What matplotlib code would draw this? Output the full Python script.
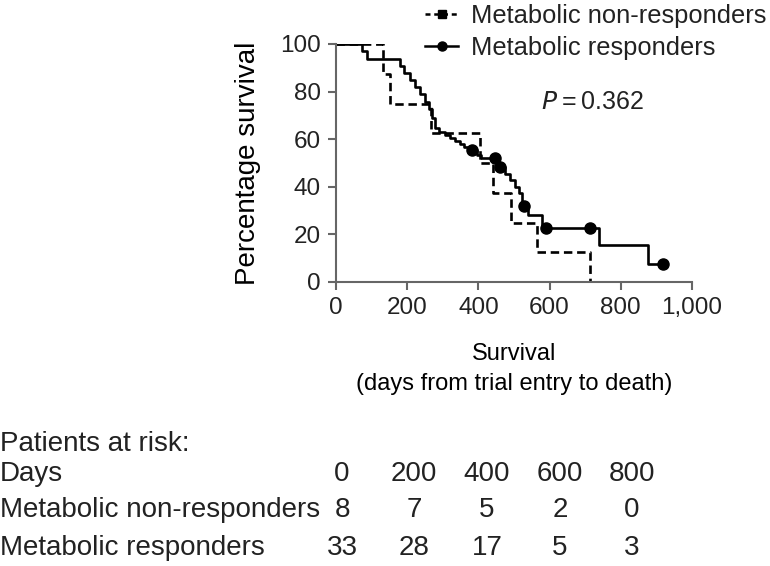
import numpy as np
import matplotlib
matplotlib.use('Agg')
import matplotlib.pyplot as plt
from matplotlib.lines import Line2D

plt.rcParams['font.family'] = ['Liberation Sans', 'DejaVu Sans']
plt.rcParams['text.color'] = '#222222'

# Kaplan-Meier steps (days, % survival)
nonresp_t = [0, 132, 152, 268, 405, 441, 492, 565, 713]
nonresp_s = [100, 87.5, 75, 62.5, 50, 37.5, 25, 12.5, 0]

resp_t = [0, 73, 88, 180, 192, 208, 222, 237, 251, 262, 270, 279, 288, 307, 320,
          335, 348, 360, 372, 397, 406, 458, 475, 490, 503, 515, 522, 538, 580,
          738, 876, 918]
resp_s = [100, 97.0, 93.9, 90.9, 87.9, 84.8, 81.8, 78.8, 75.8, 72.7, 68.8, 64.6,
          63.2, 61.8, 60.5, 59.3, 58.0, 56.9, 55.5, 53.5, 52.0, 48.5, 45.5, 42.9,
          40.0, 37.2, 32.0, 28.2, 22.7, 15.5, 7.7, 7.7]
cens_t = [383, 448, 462, 527, 589, 713, 918]
cens_s = [55.5, 52.0, 48.5, 32.0, 22.7, 22.7, 7.7]

risk_days = [0, 200, 400, 600, 800]
risk_nonresp = [8, 7, 5, 2, 0]
risk_resp = [33, 28, 17, 5, 3]

W, H = 770, 566
def px(x, y):
    return x / W, 1 - y / H

fig = plt.figure(figsize=(W / 100, H / 100), dpi=100)
ax = fig.add_axes([336 / W, 1 - 282 / H, 356 / W, 238 / H])

ax.step(nonresp_t, nonresp_s, where='post', color='black', lw=1.9, ls=(0, (3.2, 1.8)))
ax.step(resp_t, resp_s, where='post', color='black', lw=1.9)
ax.plot(cens_t, cens_s, 'o', color='black', ms=8)

ax.set_xlim(0, 1000)
ax.set_ylim(0, 100)
ax.set_xticks(range(0, 1001, 200))
ax.set_xticklabels(['0', '200', '400', '600', '800', '1,000'])
ax.set_yticks(range(0, 101, 20))
for s in ['top', 'right']:
    ax.spines[s].set_visible(False)
for s in ['left', 'bottom']:
    ax.spines[s].set_color('#666666')
    ax.spines[s].set_linewidth(1.5)
ax.tick_params(colors='#666666', width=1.5, length=6, labelsize=17.5,
               labelcolor='#222222', pad=5)

ax.set_ylabel('Percentage survival', fontsize=20, labelpad=14)
ax.set_xlabel('Survival\n(days from trial entry to death)', fontsize=17,
              labelpad=17, linespacing=1.45)

ax.text(0.575, 0.755, r'$P$' + '\u2009=\u20090.362', transform=ax.transAxes,
        fontsize=18, ha='left', va='center')

handles = [Line2D([], [], color='black', ls=(0, (2, 1.5)), lw=1.8, marker='s', ms=6),
           Line2D([], [], color='black', lw=1.8, marker='o', ms=6.5)]
fig.legend(handles, ['Metabolic non-responders', 'Metabolic responders'],
           loc='upper left', bbox_to_anchor=px(425, 4), frameon=False,
           borderpad=0, borderaxespad=0,
           fontsize=18.4, handlelength=1.3, handletextpad=0.5, labelspacing=0.3)

# patients at risk table
fs = 20
fig.text(*px(0, 444), 'Patients at risk:', fontsize=fs, va='center')
fig.text(*px(0, 474), 'Days', fontsize=fs, va='center')
fig.text(*px(0, 510), 'Metabolic non-responders', fontsize=fs, va='center')
fig.text(*px(0, 548), 'Metabolic responders', fontsize=fs, va='center')
col_x = [342, 414, 487, 560, 632]
for cx, d, a, b in zip(col_x, risk_days, risk_nonresp, risk_resp):
    fig.text(*px(cx, 474), str(d), fontsize=fs, va='center', ha='center')
    fig.text(*px(cx, 510), str(a), fontsize=fs, va='center', ha='center')
    fig.text(*px(cx, 548), str(b), fontsize=fs, va='center', ha='center')

fig.savefig('out.png', dpi=100)
